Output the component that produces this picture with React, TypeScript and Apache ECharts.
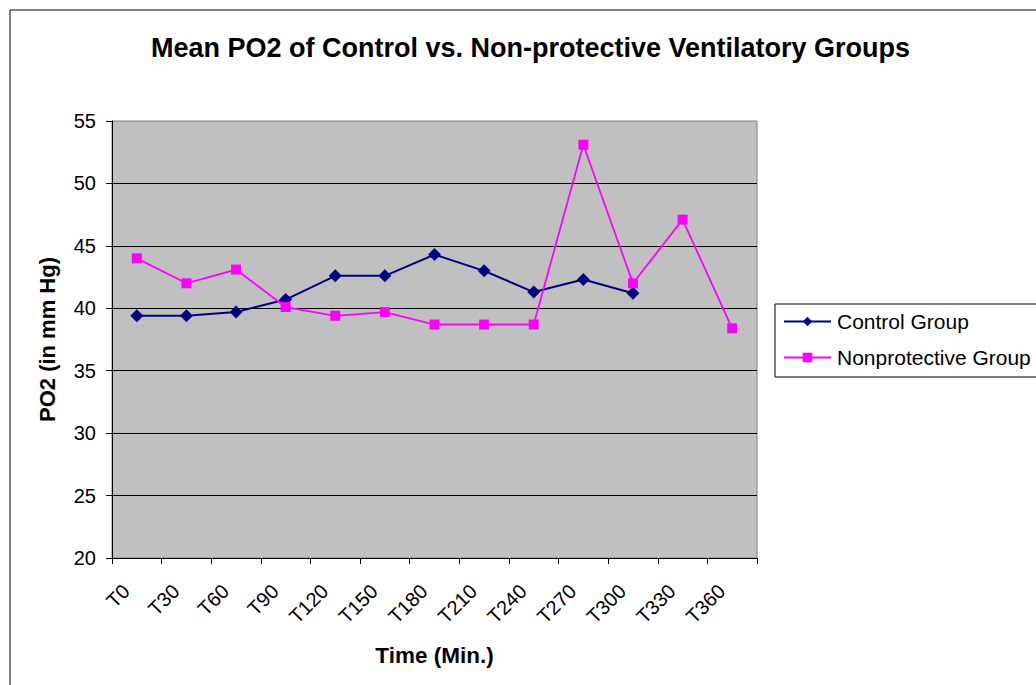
import React, { useEffect, useRef } from "react";
import * as echarts from "echarts";

const categories = ["T0", "T30", "T60", "T90", "T120", "T150", "T180", "T210", "T240", "T270", "T300", "T330", "T360"];
const controlGroup = [39.4, 39.4, 39.7, 40.7, 42.6, 42.6, 44.3, 43.0, 41.3, 42.3, 41.2, null, null];
const nonprotectiveGroup = [44.0, 42.0, 43.1, 40.1, 39.4, 39.7, 38.7, 38.7, 38.7, 53.1, 42.0, 47.1, 38.4];
const yMin = 20;
const yMax = 55;
const yStep = 5;

const FONT = "'Liberation Sans', Arial, sans-serif";

export default function App() {
  const ref = useRef<HTMLDivElement>(null);
  useEffect(() => {
    if (!ref.current) return;
    const chart = echarts.init(ref.current, null, { renderer: "svg" });
    chart.setOption({
      animation: false,
      backgroundColor: "#ffffff",
      textStyle: { fontFamily: FONT },
      title: {
        text: "Mean PO2 of Control vs. Non-protective Ventilatory Groups",
        left: 151,
        top: 34,
        padding: 0,
        textStyle: { fontFamily: FONT, fontSize: 27, fontWeight: "bold", color: "#000" },
      },
      graphic: [
        {
          type: "rect",
          shape: { x: 10, y: 10, width: 1100, height: 1000 },
          style: { fill: "none", stroke: "#000", lineWidth: 1 },
          silent: true,
          z: 0,
        },
      ],
      legend: {
        orient: "vertical",
        left: 775,
        top: 304,
        padding: [7, 10, 9, 8],
        itemGap: 15,
        itemWidth: 47,
        itemHeight: 12,
        borderColor: "#000",
        borderWidth: 1,
        backgroundColor: "#fff",
        textStyle: { fontFamily: FONT, fontSize: 21, color: "#000", padding: [0, 0, 0, 1] },
        data: ["Control Group", "Nonprotective Group"],
      },
      grid: {
        left: 112,
        top: 121,
        right: 279,
        bottom: 127,
        show: true,
        backgroundColor: "#C0C0C0",
        borderColor: "#808080",
        borderWidth: 1,
      },
      xAxis: {
        type: "category",
        data: categories,
        boundaryGap: true,
        name: "Time (Min.)",
        nameLocation: "middle",
        nameGap: 86,
        nameTextStyle: { fontFamily: FONT, fontSize: 22.5, fontWeight: "bold", color: "#000" },
        axisLine: { show: true, lineStyle: { color: "#000", width: 1 } },
        axisTick: { show: true, length: 6, lineStyle: { color: "#000" } },
        axisLabel: {
          rotate: 45,
          margin: 19,
          padding: [0, 15, 0, 0],
          fontFamily: FONT,
          fontSize: 20,
          color: "#000",
          interval: 0,
        },
        splitLine: { show: false },
      },
      yAxis: {
        type: "value",
        min: yMin,
        max: yMax,
        interval: yStep,
        name: "PO2 (in mm Hg)",
        nameLocation: "middle",
        nameRotate: 90,
        nameGap: 54,
        nameTextStyle: { fontFamily: FONT, fontSize: 22, fontWeight: "bold", color: "#000" },
        axisLine: { show: true, lineStyle: { color: "#000", width: 1 } },
        axisTick: { show: true, length: 6, lineStyle: { color: "#000" } },
        axisLabel: { margin: 16, fontFamily: FONT, fontSize: 20, color: "#000" },
        splitLine: { show: true, showMaxLine: false, showMinLine: false, lineStyle: { color: "#000", width: 1 } },
      },
      series: [
        {
          name: "Control Group",
          type: "line",
          data: controlGroup,
          connectNulls: false,
          symbol: "diamond",
          symbolSize: 13,
          itemStyle: { color: "#000080" },
          lineStyle: { color: "#000080", width: 2 },
          z: 3,
        },
        {
          name: "Nonprotective Group",
          type: "line",
          data: nonprotectiveGroup,
          symbol: "rect",
          symbolSize: 10,
          itemStyle: { color: "#FF00FF" },
          lineStyle: { color: "#FF00FF", width: 1.8 },
          z: 4,
        },
      ],
    });
    return () => chart.dispose();
  }, []);
  return (
    <div
      ref={ref}
      style={{ position: "fixed", left: 0, top: 0, width: 1036, height: 685 }}
    />
  );
}
